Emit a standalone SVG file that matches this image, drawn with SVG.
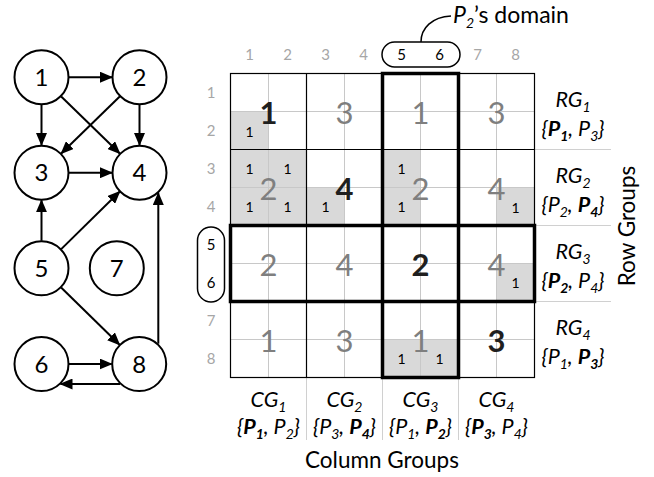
<svg xmlns="http://www.w3.org/2000/svg" width="654" height="477" viewBox="0 0 654 477">
<style>
text{font-family:Lato,"Liberation Sans",sans-serif;}
.node circle{fill:#fff;stroke:#000;stroke-width:2;}
.node text{font-size:24px;text-anchor:middle;fill:#000;}
.edge{stroke:#000;stroke-width:2;fill:none;marker-end:url(#ah);}
.shade{fill:#d9d9d9;}
.thin{stroke:#c8c8c8;stroke-width:1;}
.blk{stroke:#000;stroke-width:1.2;}
.ext{stroke:#d0d0d0;stroke-width:1;}
.idx{font-size:15px;fill:#a6a6a6;text-anchor:middle;}
.idxk{font-size:15px;fill:#000;text-anchor:middle;}
.big{font-size:31px;fill:#7f7f7f;text-anchor:middle;}
.bigb{font-size:31px;fill:#1f1f1f;font-weight:bold;text-anchor:middle;}
.sm{font-size:14px;fill:#000;text-anchor:middle;}
.lbl{font-size:21.5px;font-style:italic;fill:#000;text-anchor:middle;}
.sub{font-size:14px;}
.b{font-weight:bold;}
.pill{fill:none;stroke:#000;stroke-width:1.5;}
.title{font-size:22.5px;fill:#000;text-anchor:middle;}
</style>
<defs>
<marker id="ah" markerUnits="userSpaceOnUse" markerWidth="13" markerHeight="11" viewBox="0 0 13 11" refX="12" refY="5.5" orient="auto">
<path d="M0,0 L13,5.5 L0,11 z" fill="#000"/>
</marker>
</defs>

<!-- Graph -->
<g id="connectors">
<line class="edge" x1="69" y1="77.2" x2="112" y2="77.2"/>
<line class="edge" x1="41.5" y1="104.8" x2="41.5" y2="145"/>
<line class="edge" x1="61.2" y1="96.5" x2="119.8" y2="153.5"/>
<line class="edge" x1="120" y1="96.2" x2="61.2" y2="153.5"/>
<line class="edge" x1="139.5" y1="104.5" x2="139.5" y2="145"/>
<line class="edge" x1="69" y1="172.7" x2="112" y2="172.7"/>
<line class="edge" x1="41.5" y1="240.8" x2="41.5" y2="200.2"/>
<line class="edge" x1="61.2" y1="249.1" x2="119.8" y2="191.5"/>
<line class="edge" x1="61.1" y1="287.5" x2="119.6" y2="344.7"/>
<line class="edge" x1="69" y1="364" x2="111.7" y2="364"/>
<line class="edge" x1="120" y1="384" x2="60.5" y2="384"/>
<polyline class="edge" points="158.3,343.7 158.3,193"/>
</g>
<g id="n1" class="node"><circle cx="41.5" cy="77.2" r="27"/><text x="41.5" y="85.7">1</text></g>
<g id="n2" class="node"><circle cx="139.5" cy="77.2" r="27"/><text x="139.5" y="85.7">2</text></g>
<g id="n3" class="node"><circle cx="41.5" cy="172.7" r="27"/><text x="41.5" y="181.2">3</text></g>
<g id="n4" class="node"><circle cx="139.5" cy="172.7" r="27"/><text x="139.5" y="181.2">4</text></g>
<g id="n5" class="node"><circle cx="41.5" cy="268.3" r="27"/><text x="41.5" y="276.8">5</text></g>
<g id="n7" class="node"><circle cx="116.8" cy="268.3" r="27"/><text x="116.8" y="276.8">7</text></g>
<g id="n6" class="node"><circle cx="41.5" cy="364" r="27"/><text x="41.5" y="372.5">6</text></g>
<g id="n8" class="node"><circle cx="139.2" cy="364" r="27"/><text x="139.2" y="372.5">8</text></g>

<!-- Matrix -->
<g id="matrix">
<rect class="shade" x="230.5" y="111.5" width="38" height="38"/>
<rect class="shade" x="230.5" y="149.5" width="76" height="76"/>
<rect class="shade" x="306.5" y="187.5" width="38" height="38"/>
<rect class="shade" x="382.5" y="149.5" width="38" height="76"/>
<rect class="shade" x="496.5" y="187.5" width="38" height="38"/>
<rect class="shade" x="496.5" y="263.5" width="38" height="38"/>
<rect class="shade" x="382.5" y="339.5" width="76" height="38"/>

<g class="thin">
<line x1="268.5" y1="73.5" x2="268.5" y2="377.5"/>
<line x1="344.5" y1="73.5" x2="344.5" y2="377.5"/>
<line x1="420.5" y1="73.5" x2="420.5" y2="377.5"/>
<line x1="496.5" y1="73.5" x2="496.5" y2="377.5"/>
<line x1="230.5" y1="111.5" x2="534.5" y2="111.5"/>
<line x1="230.5" y1="187.5" x2="534.5" y2="187.5"/>
<line x1="230.5" y1="263.5" x2="534.5" y2="263.5"/>
<line x1="230.5" y1="339.5" x2="534.5" y2="339.5"/>
</g>
<g class="ext">
<line x1="534.5" y1="149.5" x2="611" y2="149.5"/>
<line x1="534.5" y1="225.5" x2="611" y2="225.5"/>
<line x1="534.5" y1="301.5" x2="611" y2="301.5"/>
<line x1="306.5" y1="377.5" x2="306.5" y2="440"/>
<line x1="382.5" y1="377.5" x2="382.5" y2="440"/>
<line x1="458.5" y1="377.5" x2="458.5" y2="440"/>
</g>
<g class="blk">
<line x1="306.5" y1="73.5" x2="306.5" y2="377.5"/>
<line x1="230.5" y1="149.5" x2="534.5" y2="149.5"/>
<line x1="230.5" y1="301.5" x2="534.5" y2="301.5"/>
<rect x="230.5" y="73.5" width="304" height="304" fill="none"/>
</g>
<rect x="382.5" y="73.5" width="76" height="304" fill="none" stroke="#000" stroke-width="3.5"/>
<rect x="230.5" y="225.5" width="304" height="76" fill="none" stroke="#000" stroke-width="3.5"/>

<!-- big numbers -->
<text class="bigb" x="268.5" y="123.5">1</text>
<text class="big" x="344.5" y="123.5">3</text>
<text class="big" x="420.5" y="123.5">1</text>
<text class="big" x="496.5" y="123.5">3</text>
<text class="big" x="268.5" y="199.5">2</text>
<text class="bigb" x="344.5" y="199.5">4</text>
<text class="big" x="420.5" y="199.5">2</text>
<text class="big" x="496.5" y="199.5">4</text>
<text class="big" x="268.5" y="275.5">2</text>
<text class="big" x="344.5" y="275.5">4</text>
<text class="bigb" x="420.5" y="275.5">2</text>
<text class="big" x="496.5" y="275.5">4</text>
<text class="big" x="268.5" y="351.5">1</text>
<text class="big" x="344.5" y="351.5">3</text>
<text class="big" x="420.5" y="351.5">1</text>
<text class="bigb" x="496.5" y="351.5">3</text>

<!-- small counts -->
<text class="sm" x="249.5" y="136.5">1</text>
<text class="sm" x="249.5" y="174">1</text>
<text class="sm" x="287.5" y="174">1</text>
<text class="sm" x="249.5" y="212">1</text>
<text class="sm" x="287.5" y="212">1</text>
<text class="sm" x="325.5" y="212">1</text>
<text class="sm" x="401.5" y="174">1</text>
<text class="sm" x="401.5" y="212">1</text>
<text class="sm" x="515.5" y="213">1</text>
<text class="sm" x="515.5" y="288">1</text>
<text class="sm" x="401.5" y="364">1</text>
<text class="sm" x="439.5" y="364">1</text>
</g>

<!-- indices -->
<g id="col-index">
<text class="idx" x="249.5" y="60">1</text>
<text class="idx" x="287.5" y="60">2</text>
<text class="idx" x="325.5" y="60">3</text>
<text class="idx" x="363.5" y="60">4</text>
<text class="idxk" x="401.5" y="60">5</text>
<text class="idxk" x="439.5" y="60">6</text>
<text class="idx" x="477.5" y="60">7</text>
<text class="idx" x="515.5" y="60">8</text>
<rect class="pill" x="382" y="42" width="78" height="25" rx="12.5"/>
</g>
<g id="row-index">
<text class="idx" x="211" y="98">1</text>
<text class="idx" x="211" y="136">2</text>
<text class="idx" x="211" y="174">3</text>
<text class="idx" x="211" y="212">4</text>
<text class="idxk" x="211" y="250">5</text>
<text class="idxk" x="211" y="288">6</text>
<text class="idx" x="211" y="326">7</text>
<text class="idx" x="211" y="364">8</text>
<rect class="pill" x="197.5" y="227" width="27" height="75" rx="13.5"/>
</g>

<g id="domain-label">
<path d="M421,42 C421,28 432,17 451,16" fill="none" stroke="#000" stroke-width="1.5"/>
<text x="453" y="23" style="font-size:23px;fill:#000;"><tspan font-style="italic">P</tspan><tspan class="sub" font-size="15" font-style="italic" dy="5">2</tspan><tspan dy="-5">’s domain</tspan></text>
</g>

<!-- row groups -->
<g id="rg1">
<text class="lbl" x="573" y="107">RG<tspan class="sub" dy="4.5">1</tspan></text>
<text class="lbl" x="573" y="136">{<tspan class="b">P<tspan class="sub" dy="4.5">1</tspan></tspan><tspan dy="-4.5">, P</tspan><tspan class="sub" dy="4.5">3</tspan><tspan dy="-4.5">}</tspan></text>
</g>
<g id="rg2">
<text class="lbl" x="573" y="183">RG<tspan class="sub" dy="4.5">2</tspan></text>
<text class="lbl" x="573" y="212">{P<tspan class="sub" dy="4.5">2</tspan><tspan dy="-4.5">, </tspan><tspan class="b">P<tspan class="sub" dy="4.5">4</tspan></tspan><tspan dy="-4.5">}</tspan></text>
</g>
<g id="rg3">
<text class="lbl" x="573" y="259">RG<tspan class="sub" dy="4.5">3</tspan></text>
<text class="lbl" x="573" y="288">{<tspan class="b">P<tspan class="sub" dy="4.5">2</tspan></tspan><tspan dy="-4.5">, P</tspan><tspan class="sub" dy="4.5">4</tspan><tspan dy="-4.5">}</tspan></text>
</g>
<g id="rg4">
<text class="lbl" x="573" y="335">RG<tspan class="sub" dy="4.5">4</tspan></text>
<text class="lbl" x="573" y="364">{P<tspan class="sub" dy="4.5">1</tspan><tspan dy="-4.5">, </tspan><tspan class="b">P<tspan class="sub" dy="4.5">3</tspan></tspan><tspan dy="-4.5">}</tspan></text>
</g>
<text class="title" x="635" y="226" transform="rotate(-90 635 226)">Row Groups</text>

<!-- column groups -->
<g id="cg1">
<text class="lbl" x="268.5" y="407">CG<tspan class="sub" dy="4.5">1</tspan></text>
<text class="lbl" x="268.5" y="434">{<tspan class="b">P<tspan class="sub" dy="4.5">1</tspan></tspan><tspan dy="-4.5">, P</tspan><tspan class="sub" dy="4.5">2</tspan><tspan dy="-4.5">}</tspan></text>
</g>
<g id="cg2">
<text class="lbl" x="344.5" y="407">CG<tspan class="sub" dy="4.5">2</tspan></text>
<text class="lbl" x="344.5" y="434">{P<tspan class="sub" dy="4.5">3</tspan><tspan dy="-4.5">, </tspan><tspan class="b">P<tspan class="sub" dy="4.5">4</tspan></tspan><tspan dy="-4.5">}</tspan></text>
</g>
<g id="cg3">
<text class="lbl" x="420.5" y="407">CG<tspan class="sub" dy="4.5">3</tspan></text>
<text class="lbl" x="420.5" y="434">{P<tspan class="sub" dy="4.5">1</tspan><tspan dy="-4.5">, </tspan><tspan class="b">P<tspan class="sub" dy="4.5">2</tspan></tspan><tspan dy="-4.5">}</tspan></text>
</g>
<g id="cg4">
<text class="lbl" x="496.5" y="407">CG<tspan class="sub" dy="4.5">4</tspan></text>
<text class="lbl" x="496.5" y="434">{<tspan class="b">P<tspan class="sub" dy="4.5">3</tspan></tspan><tspan dy="-4.5">, P</tspan><tspan class="sub" dy="4.5">4</tspan><tspan dy="-4.5">}</tspan></text>
</g>
<text class="title" x="382" y="468">Column Groups</text>
</svg>
